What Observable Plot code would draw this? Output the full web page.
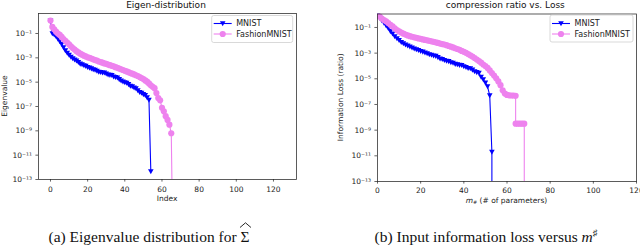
<!DOCTYPE html>
<html><head><meta charset="utf-8">
<script src="https://cdn.jsdelivr.net/npm/d3@7"></script>
<script src="https://cdn.jsdelivr.net/npm/@observablehq/plot@0.6"></script>
<style>
html,body{margin:0;padding:0;background:#fff;}
#wrap{position:relative;width:640px;height:245px;overflow:hidden;font-family:"DejaVu Sans",sans-serif;}
.panel{position:absolute;top:0;}
.cap{position:absolute;font-family:"Liberation Serif",serif;font-size:15.5px;line-height:15.5px;white-space:nowrap;color:#111;transform:translateX(-50%);}
.cap sup{font-size:0.6em;line-height:0;}
.hat{position:relative;display:inline-block;}
.hat svg{position:absolute;left:-1px;top:-7px;}
</style></head><body>
<div id="wrap">
  <div class="panel" id="pa" style="left:0px"></div>
  <div class="panel" id="pb" style="left:320px"></div>
  <div class="cap" style="left:149px;top:229px">(a) Eigenvalue distribution for <span class="hat">Σ<svg width="12" height="6" viewBox="0 0 12 6"><path d="M0.5,5.5 L6,0.8 L11.5,5.5" fill="none" stroke="#111" stroke-width="0.9"/></svg></span></div>
  <div class="cap" style="left:486px;top:229px">(b) Input information loss versus <i>m</i><sup>♯</sup></div>
</div>
<script>
// ---- data ----
const seriesNames = ["MNIST", "FashionMNIST"];
const xTicks = [0, 20, 40, 60, 80, 100, 120];
const yTicks = [1e-1, 1e-3, 1e-5, 1e-7, 1e-9, 1e-11, 1e-13];
const yTickLabels = ["10⁻¹", "10⁻³", "10⁻⁵", "10⁻⁷", "10⁻⁹", "10⁻¹¹", "10⁻¹³"];

const mnistEigIndex = [0,1,2,3,4,5,6,7,8,9,10,11,12,13,14,15,16,17,18,19,20,21,22,23,24,25,26,27,28,29,30,31,32,33,34,35,36,37,38,39,40,41,42,43,44,45,46,47,48,49,50,51,52,53,54];
const mnistEigValue = [1.1, 1.0e-1, 7.9e-2, 5.6e-2, 3.5e-2, 2.2e-2, 1.3e-2, 7.1e-3, 4.0e-3, 2.5e-3,
  1.7e-3, 1.2e-3, 8.9e-4, 7.1e-4, 5.9e-4, 4.4e-4, 3.2e-4, 2.8e-4, 2.4e-4, 2.1e-4,
  1.7e-4, 1.5e-4, 1.3e-4, 1.1e-4, 1.0e-4, 8.3e-5, 7.0e-5, 6.6e-5, 6.0e-5, 5.9e-5,
  5.0e-5, 4.1e-5, 3.8e-5, 3.7e-5, 2.8e-5, 2.5e-5, 2.3e-5, 1.7e-5, 1.3e-5, 1.1e-5,
  9.5e-6, 8.5e-6, 6.6e-6, 4.8e-6, 4.5e-6, 3.5e-6, 3.0e-6, 2.1e-6, 1.5e-6, 1.3e-6,
  1.0e-6, 8.5e-7, 5.6e-7, 3.5e-7, 4.5e-13];

const fashionEigIndex = [0,1,2,3,4,5,6,7,8,9,10,11,12,13,14,15,16,17,18,19,20,21,22,23,24,25,26,27,28,29,30,31,32,33,34,35,36,37,38,39,40,41,42,43,44,45,46,47,48,49,50,51,52,53,54,55,56,57,58,59,60,61,62,63,64,65,66];
const fashionEigValue = [1.15, 0.35, 0.22, 0.14, 0.10, 7.6e-2, 5.2e-2, 3.5e-2, 2.5e-2, 1.8e-2,
  1.3e-2, 8.9e-3, 6.3e-3, 4.8e-3, 3.5e-3, 2.8e-3, 2.2e-3, 1.8e-3, 1.5e-3, 1.3e-3,
  1.1e-3, 1.0e-3, 8.7e-4, 7.6e-4, 6.6e-4, 5.9e-4, 5.0e-4, 4.5e-4, 4.0e-4, 3.5e-4,
  3.2e-4, 2.8e-4, 2.5e-4, 2.2e-4, 2.0e-4, 1.7e-4, 1.5e-4, 1.3e-4, 1.15e-4, 1.0e-4,
  8.7e-5, 7.6e-5, 6.6e-5, 5.6e-5, 5.0e-5, 4.3e-5, 3.7e-5, 3.2e-5, 2.6e-5, 2.2e-5,
  1.8e-5, 1.4e-5, 1.1e-5, 7.9e-6, 5.6e-6, 4.2e-6, 3.2e-6, 1.26e-6, 5.0e-7, 3.2e-7,
  7.9e-8, 4.0e-8, 1.6e-8, 7.9e-9, 3.2e-9, 6.3e-10, 1e-20];

const mnistLossM = [0,1,2,3,4,5,6,7,8,9,10,11,12,13,14,15,16,17,18,19,20,21,22,23,24,25,26,27,28,29,30,31,32,33,34,35,36,37,38,39,40,41,42,43,44,45,46,47,48,49,50,51,52,53,53];
const mnistLossValue = [0.89, 0.56, 0.35, 0.22, 0.14, 8.9e-2, 5.0e-2, 3.2e-2, 2.0e-2, 1.4e-2,
  1.0e-2, 7.1e-3, 5.6e-3, 4.5e-3, 3.8e-3, 3.2e-3, 2.6e-3, 2.2e-3, 1.9e-3, 1.7e-3,
  1.4e-3, 1.26e-3, 1.07e-3, 9.3e-4, 7.9e-4, 7.1e-4, 6.3e-4, 5.9e-4, 4.7e-4, 3.7e-4,
  3.3e-4, 2.8e-4, 2.5e-4, 2.3e-4, 1.9e-4, 1.7e-4, 1.4e-4, 1.3e-4, 1.17e-4, 1.15e-4,
  9.3e-5, 7.9e-5, 6.8e-5, 6.5e-5, 5.0e-5, 3.8e-5, 3.2e-5, 2.8e-5, 1.4e-5, 8.9e-6,
  5.0e-6, 2.5e-6, 5.0e-7, 2.0e-11, 1e-20];

const fashionLossM = [0,1,2,3,4,5,6,7,8,9,10,11,12,13,14,15,16,17,18,19,20,21,22,23,24,25,26,27,28,29,30,31,32,33,34,35,36,37,38,39,40,41,42,43,44,45,46,47,48,49,50,51,52,53,54,55,56,57,58,59,60,61,62,63,64,64,65,66,67,68,68];
const fashionLossValue = [0.95, 0.71, 0.50, 0.38, 0.30, 0.22, 0.16, 0.12, 8.5e-2, 6.3e-2,
  5.0e-2, 4.0e-2, 3.3e-2, 2.8e-2, 2.4e-2, 2.1e-2, 1.9e-2, 1.7e-2, 1.55e-2, 1.4e-2,
  1.3e-2, 1.17e-2, 1.07e-2, 1.0e-2, 9.1e-3, 8.3e-3, 7.6e-3, 6.9e-3, 6.3e-3, 5.6e-3,
  5.1e-3, 4.7e-3, 4.2e-3, 3.6e-3, 3.2e-3, 2.8e-3, 2.4e-3, 2.1e-3, 1.8e-3, 1.5e-3,
  1.26e-3, 1.05e-3, 8.5e-4, 6.8e-4, 5.4e-4, 4.2e-4, 3.2e-4, 2.4e-4, 1.8e-4, 1.3e-4,
  1.0e-4, 7.1e-5, 4.5e-5, 2.8e-5, 1.8e-5, 1.1e-5, 6.3e-6, 3.2e-6, 1.26e-6, 7.1e-7,
  5.6e-7, 5.2e-7, 5.0e-7, 5.0e-7, 4.8e-7, 3.2e-9, 3.2e-9, 3.2e-9, 3.2e-9, 3.2e-9, 1e-20];

// ---- styles ----
const BLUE = "#0000ff", VIOLET = "#ee82ee";
const triangleDown = {draw(ctx, size) {
  const r = Math.sqrt(size / Math.PI);
  ctx.moveTo(-r, -r * 0.8); ctx.lineTo(r, -r * 0.8); ctx.lineTo(0, r * 1.0); ctx.closePath();
}};
const styles = [
  {color: BLUE, symbol: triangleDown, r: 2.8},
  {color: VIOLET, symbol: "circle", r: 3.1}
];

function rows(xs, ys) { return xs.map((x, i) => ({x, y: ys[i]})); }

function makePanel(cfg) {
  const marks = [];
  cfg.series.forEach((s, k) => {
    const st = styles[k];
    marks.push(Plot.line(s, {x: "x", y: "y", stroke: st.color, strokeWidth: 1.1, clip: true}));
    marks.push(Plot.dot(s, {x: "x", y: "y", fill: st.color, stroke: "none", r: st.r, symbol: st.symbol, clip: true}));
  });
  marks.push(Plot.frame({stroke: "#333", strokeWidth: 0.8}));
  marks.push(Plot.axisX(xTicks, {tickSize: 2.6, tickPadding: cfg.xPad, label: null, strokeWidth: 0.7}));
  marks.push(Plot.axisY(yTicks, {tickSize: 2.6, tickPadding: 4, label: null, strokeWidth: 0.7,
    tickFormat: d => yTickLabels[yTicks.indexOf(d)]}));
  const chart = Plot.plot({
    width: cfg.width, height: cfg.height,
    marginLeft: cfg.ml, marginRight: cfg.mr, marginTop: cfg.mt, marginBottom: cfg.mb,
    x: {domain: cfg.xDomain},
    y: {type: "log", domain: cfg.yDomain},
    style: {fontFamily: "DejaVu Sans", fontSize: "7.5px", color: "#222", background: "transparent", overflow: "visible"},
    marks
  });
  const svg = d3.select(chart);
  const fx0 = cfg.ml, fx1 = cfg.width - cfg.mr, fy0 = cfg.mt, fy1 = cfg.height - cfg.mb;
  // title
  svg.append("text").attr("x", cfg.titleX).attr("y", 5).attr("dy", "0.35em")
    .attr("text-anchor", "middle").attr("font-size", 9).attr("fill", "#111").text(cfg.title);
  // y label
  svg.append("text").attr("transform", `translate(${cfg.ylabelX},${(fy0 + fy1) / 2}) rotate(-90)`)
    .attr("dy", "0.35em").attr("text-anchor", "middle").attr("font-size", 7.5).attr("fill", "#222").text(cfg.ylabel);
  // x label
  const xl = svg.append("text").attr("x", (fx0 + fx1) / 2).attr("y", cfg.xlabelY).attr("dy", "0.35em")
    .attr("text-anchor", "middle").attr("font-size", 7.5).attr("fill", "#222");
  cfg.xlabel(xl);
  // legend
  const L = cfg.legend;
  const g = svg.append("g").attr("transform", `translate(${L.x},${L.y})`);
  g.append("rect").attr("width", L.w).attr("height", L.h).attr("rx", 2)
    .attr("fill", "white").attr("fill-opacity", 0.8).attr("stroke", "#cfcfcf").attr("stroke-width", 0.8);
  seriesNames.forEach((name, k) => {
    const st = styles[k];
    const yy = L.row0 + k * L.dy;
    g.append("line").attr("x1", 2).attr("x2", 20).attr("y1", yy).attr("y2", yy)
      .attr("stroke", st.color).attr("stroke-width", 1.1);
    const type = st.symbol === "circle" ? d3.symbolCircle : st.symbol;
    g.append("path").attr("d", d3.symbol(type, Math.PI * st.r * st.r)())
      .attr("transform", `translate(11,${yy})`).attr("fill", st.color);
    g.append("text").attr("x", 24.5).attr("y", yy).attr("dy", "0.35em").attr("text-anchor", "start")
      .attr("font-size", 8).attr("fill", "#222").text(name);
  });
  return chart;
}

document.getElementById("pa").appendChild(makePanel({
  width: 320, height: 215, ml: 38, mr: 24, mt: 13, mb: 36,
  xDomain: [-6.45, 132.4], yDomain: [1e-13, 4.4],
  series: [rows(mnistEigIndex, mnistEigValue), rows(fashionEigIndex, fashionEigValue)],
  xPad: 4.5,
  title: "Eigen-distribution", titleX: 166,
  ylabel: "Eigenvalue", ylabelX: 4,
  xlabelY: 198.5, xlabel: t => t.text("Index"),
  legend: {x: 211.7, y: 15.5, w: 81, h: 27, row0: 8, dy: 10.5}
}));

document.getElementById("pb").appendChild(makePanel({
  width: 320, height: 215, ml: 57, mr: 4, mt: 13.5, mb: 34,
  xDomain: [0, 120], yDomain: [1e-13, 1.12],
  series: [rows(mnistLossM, mnistLossValue), rows(fashionLossM, fashionLossValue)],
  xPad: 3.5,
  title: "compression ratio vs. Loss", titleX: 185.3,
  ylabel: "Information Loss (ratio)", ylabelX: 20,
  xlabelY: 200, xlabel: t => {
    t.append("tspan").attr("font-style", "italic").text("m");
    t.append("tspan").attr("font-size", 5).attr("dy", 1.5).attr("font-style", "italic").text("#");
    t.append("tspan").attr("dy", -1.5).text(" (# of parameters)");
  },
  legend: {x: 230, y: 15, w: 83, h: 27, row0: 8.5, dy: 10.5}
}));
</script>
</body></html>
